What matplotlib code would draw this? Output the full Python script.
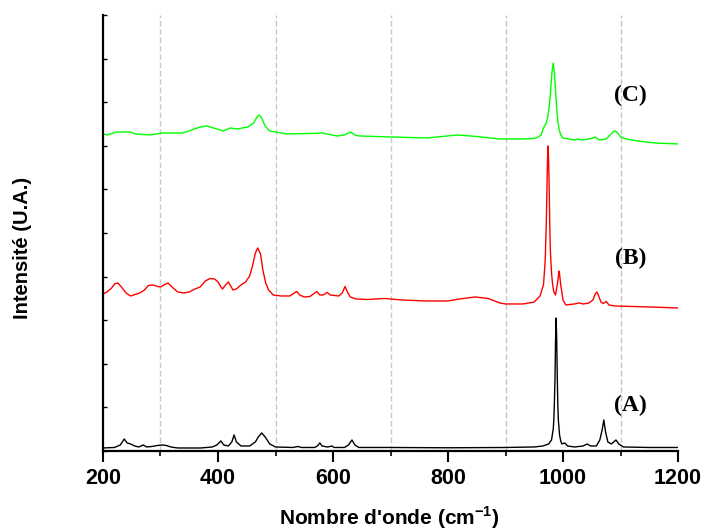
import matplotlib
matplotlib.use("Agg")
import matplotlib.pyplot as plt
from matplotlib.ticker import MultipleLocator, NullFormatter

# ---- data (wavenumber in cm-1, intensity in arbitrary units) ----
wn_A = [200, 220, 230, 237, 242, 248, 255, 262, 270, 276, 285, 295, 303, 310, 318, 330,
        370, 390, 398, 405, 410, 418, 424, 428, 432, 440, 455, 465, 470, 476, 482, 490,
        500, 530, 539, 545, 568, 573, 577, 581, 590, 595, 598, 602, 620, 627, 633, 638,
        645, 700, 800, 900, 950, 965, 975, 980, 983, 984, 985, 986, 987, 988, 989, 990,
        991, 992, 994, 996, 998, 1003, 1008, 1020, 1035, 1042, 1048, 1058, 1064, 1068,
        1071, 1074, 1078, 1084, 1088, 1092, 1097, 1105, 1150, 1200]
int_A = [3, 3.5, 6, 12, 8, 7, 5, 4, 6, 4, 4.5, 5.5, 6, 5.5, 4, 3,
         3, 4, 6, 10, 6, 5, 9, 16, 9, 5, 5, 9, 14, 18, 14, 7,
         4, 3.5, 4.5, 3.5, 3.5, 5, 8, 5, 4, 4.5, 5, 3.5, 3.5, 6, 11, 6,
         3.5, 3.5, 3.2, 3.5, 4, 5, 7, 11, 22, 31, 48, 71, 110, 133, 112, 75,
         45, 30, 16, 10, 7, 8, 5, 4, 5, 7, 5, 5, 11, 21,
         31, 19, 9, 7, 9, 11, 7, 4, 3.5, 3.5]

wn_B = [200, 207, 215, 220, 226, 232, 240, 248, 256, 264, 272, 279, 287, 295, 300, 306,
        313, 320, 330, 340, 350, 360, 369, 378, 386, 394, 400, 405, 408, 413, 418, 422,
        426, 432, 440, 448, 455, 460, 465, 469, 474, 478, 483, 488, 496, 510, 525, 530,
        537, 542, 550, 560, 566, 572, 577, 583, 590, 595, 610, 616, 621, 625, 630, 640,
        660, 690, 720, 760, 800, 820, 847, 870, 890, 900, 930, 950, 960, 966, 969, 971,
        972, 973, 974, 975, 976, 977, 978, 980, 982, 984, 987, 990, 992, 993, 994, 996,
        1000, 1005, 1020, 1028, 1035, 1045, 1052, 1056, 1059, 1062, 1066, 1070, 1075,
        1080, 1090, 1150, 1200]
int_B = [157, 159, 163, 167, 168, 164, 158, 155, 156.5, 158, 161, 165.5, 166, 164.5, 164, 166,
         168, 164, 159, 158, 159, 162, 164, 170, 172.5, 172, 169, 164, 162, 166, 169, 165,
         161, 162, 166, 169, 175, 185, 198, 203, 197, 181, 168, 161, 156, 155, 155, 157,
         159.5, 156, 154, 154.5, 157, 159.5, 156, 156, 158.5, 156, 155, 158, 164.5, 159, 154, 152,
         151.5, 152.5, 151, 150, 150, 152, 154, 152.5, 148, 147, 147, 149, 155, 166, 190, 230,
         261, 290, 305, 290, 261, 225, 200, 178, 166, 159, 156, 166, 175, 180, 177, 166,
         151, 146, 147, 148, 147, 148, 151, 157, 159, 155, 149, 147.5, 149.5,
         146, 145, 144, 143]

wn_C = [200, 207, 224, 247, 256, 282, 303, 339, 369, 381, 409, 421, 433, 452, 462, 468,
        472, 476, 482, 490, 520, 560, 581, 607, 620, 630, 640, 647, 701, 763, 816, 850,
        890, 930, 950, 957, 962, 966, 969, 971, 973, 975, 977, 979, 981, 983, 985, 987,
        989, 991, 993, 996, 1000, 1010, 1020, 1026, 1032, 1045, 1052, 1056, 1060, 1065,
        1075, 1082, 1088, 1091, 1095, 1100, 1110, 1130, 1160, 1200]
int_C = [317, 316, 319, 319, 317, 316, 318, 318, 324, 325, 320, 323, 322, 324, 328, 334,
         336, 333, 325, 320, 317, 317.5, 318, 315, 316, 319, 315.5, 315, 314, 313, 316, 314.5,
         312, 312, 312.5, 314, 316, 323, 326, 328, 333, 340, 350, 365, 380, 388, 378, 360,
         342, 330, 322, 316, 313, 312, 311, 312, 311, 312, 313, 314, 312, 311,
         312, 316, 319.5, 320, 318, 314, 312, 310, 308, 307]

labels = ["(A)", "(B)", "(C)"]
label_x = [1118, 1118, 1118]
label_y = [46, 193, 356]

xticks_major = [200, 400, 600, 800, 1000, 1200]
grid_x = [300, 500, 700, 900, 1100]

plt.rcParams['font.family'] = ['Liberation Sans', 'DejaVu Sans']
plt.rcParams['mathtext.fontset'] = 'custom'
plt.rcParams['mathtext.rm'] = 'Liberation Sans'
plt.rcParams['mathtext.bf'] = 'Liberation Sans:bold'

fig = plt.figure(figsize=(7.04, 5.31), dpi=100)
ax = fig.add_axes([0.1463, 0.1507, 0.8168, 0.8211])

for gx in grid_x:
    ax.axvline(gx, color='#c8c8c8', lw=1.0, ls=(0, (4, 2)), zorder=0)

ax.plot(wn_A, int_A, color='black', lw=1.0)
ax.plot(wn_B, int_B, color='#ff0000', lw=1.0)
ax.plot(wn_C, int_C, color='#00ff00', lw=1.0)

for t, x, y in zip(labels, label_x, label_y):
    ax.text(x, y, t, ha='center', va='center', fontsize=17, fontweight='bold',
            family='Liberation Serif')

ax.set_xlim(200, 1200)
ax.set_ylim(0, 436)
ax.set_xticks(xticks_major)
ax.set_xticklabels([str(v) for v in xticks_major], fontsize=15.5, fontweight='bold')
ax.xaxis.set_minor_locator(MultipleLocator(100))
ax.tick_params(axis='x', which='major', direction='out', length=8, width=1.5, pad=4)
ax.tick_params(axis='x', which='minor', direction='out', length=3.5, width=1.2)

ax.yaxis.set_major_locator(MultipleLocator(43.6))
ax.yaxis.set_major_formatter(NullFormatter())
ax.tick_params(axis='y', which='major', direction='in', length=3, width=1)

for s in ['top', 'right']:
    ax.spines[s].set_visible(False)
for s in ['left', 'bottom']:
    ax.spines[s].set_linewidth(1.6)

ax.set_xlabel(r"Nombre d'onde (cm$^{\mathbf{-1}}$)", fontsize=15, fontweight='bold')
ax.xaxis.set_label_coords(0.498, -0.122)
ax.set_ylabel("Intensité (U.A.)", fontsize=14.5, fontweight='bold')
ax.yaxis.set_label_coords(-0.124, 0.466)

fig.savefig("out.png", dpi=100)
